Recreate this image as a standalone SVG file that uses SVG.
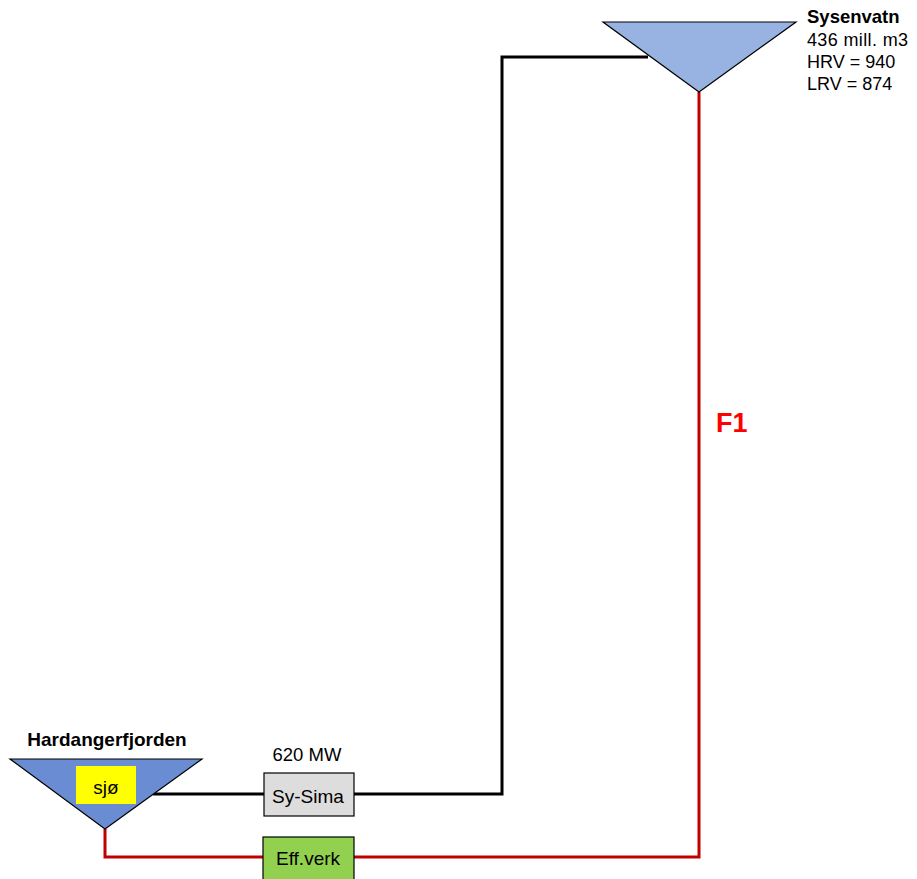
<svg xmlns="http://www.w3.org/2000/svg" width="917" height="879" viewBox="0 0 917 879">
<style>
text{font-family:"Liberation Sans",Arial,sans-serif;fill:#000}
.b{font-weight:bold}
.blk{fill:none;stroke:#000;stroke-width:3}
.red{fill:none;stroke:#C00000;stroke-width:3}
.box{stroke:#000;stroke-width:1.2}
</style>
<rect width="917" height="879" fill="#fff"/>
<g id="connectors">
<polyline class="blk" points="648,57 502,57 502,794 354,794"/>
<line class="blk" x1="153" y1="794" x2="264" y2="794"/>
<polyline class="red" points="699,92 699,857 354,857"/>
<polyline class="red" points="105,829 105,857 263,857"/>
</g>
<g id="sysenvatn">
<polygon points="603,22 796,22 699,92" fill="#98B2E2" stroke="#000" stroke-width="1.2"/>
<text x="807" y="23" font-size="18.5" class="b">Sysenvatn</text>
<text x="807" y="46" font-size="18" textLength="101">436 mill. m3</text>
<text x="807" y="68" font-size="18">HRV = 940</text>
<text x="807" y="90" font-size="18">LRV = 874</text>
</g>
<g id="hardangerfjorden">
<polygon points="10,759 202,759 105,829" fill="#6A8CD2" stroke="#000" stroke-width="1.2"/>
<rect x="76" y="766" width="60" height="38" fill="#FFFF00"/>
<text x="106" y="794" font-size="19" text-anchor="middle">sjø</text>
<text x="107" y="746" font-size="19" class="b" text-anchor="middle">Hardangerfjorden</text>
</g>
<g id="sy-sima">
<text x="307" y="761" font-size="18.5" text-anchor="middle">620 MW</text>
<rect class="box" x="264" y="773" width="90" height="43" fill="#DDDDDD"/>
<text x="308" y="803" font-size="19" text-anchor="middle">Sy-Sima</text>
</g>
<g id="eff-verk">
<rect class="box" x="263" y="837" width="91" height="50" fill="#92D050"/>
<text x="308" y="865" font-size="19" text-anchor="middle">Eff.verk</text>
</g>
<g id="f1-label">
<text x="716" y="432" font-size="27" class="b" style="fill:#FF0000">F1</text>
</g>
</svg>
